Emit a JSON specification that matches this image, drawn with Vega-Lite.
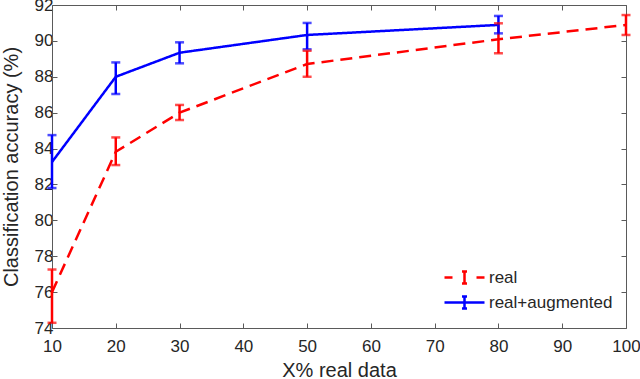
{
  "$schema": "https://vega.github.io/schema/vega-lite/v6.json",
  "autosize": "none",
  "width": 574,
  "height": 323,
  "padding": {"left": 52, "top": 5, "right": 14, "bottom": 51},
  "background": "white",
  "config": {
    "view": {"stroke": null},
    "font": "Liberation Sans",
    "axis": {
      "grid": false,
      "domainColor": "#5a5a5a",
      "tickColor": "#5a5a5a",
      "domainWidth": 1,
      "tickSize": -5,
      "labelFontSize": 17,
      "labelColor": "#262626",
      "titleFontSize": 20,
      "titleFontWeight": "normal",
      "titleColor": "#262626"
    }
  },
  "data": {
    "values": [
      {"series": "real", "x": 10, "y": 76.0, "lo": 74.29, "hi": 77.26},
      {"series": "real", "x": 20, "y": 83.82, "lo": 83.08, "hi": 84.62},
      {"series": "real", "x": 30, "y": 86.0, "lo": 85.59, "hi": 86.43},
      {"series": "real", "x": 50, "y": 88.71, "lo": 88.0, "hi": 89.45},
      {"series": "real", "x": 80, "y": 90.09, "lo": 89.31, "hi": 90.98},
      {"series": "real", "x": 100, "y": 90.89, "lo": 90.33, "hi": 91.44},
      {"series": "real+augmented", "x": 10, "y": 83.25, "lo": 81.8, "hi": 84.75},
      {"series": "real+augmented", "x": 20, "y": 88.0, "lo": 87.04, "hi": 88.8},
      {"series": "real+augmented", "x": 30, "y": 89.34, "lo": 88.75, "hi": 89.92},
      {"series": "real+augmented", "x": 50, "y": 90.33, "lo": 89.53, "hi": 91.0},
      {"series": "real+augmented", "x": 80, "y": 90.89, "lo": 90.42, "hi": 91.39}
    ]
  },
  "resolve": {"axis": {"x": "independent", "y": "independent"}},
  "layer": [
    {
      "mark": {"type": "line", "strokeWidth": 2.5},
      "encoding": {
        "x": {"field": "x", "type": "quantitative",
              "scale": {"domain": [10, 100], "nice": false},
              "axis": {"title": "X% real data", "values": [10,20,30,40,50,60,70,80,90,100], "labelPadding": 15, "titlePadding": 6, "labelFlush": false}},
        "y": {"field": "y", "type": "quantitative",
              "scale": {"domain": [74, 92], "nice": false, "zero": false},
              "axis": {"title": "Classification accuracy (%)", "values": [74,76,78,80,82,84,86,88,90,92], "labelPadding": 4, "titlePadding": 13, "labelFlush": false}},
        "color": {"field": "series", "type": "nominal",
                  "scale": {"domain": ["real", "real+augmented"], "range": ["#FF0000", "#0000FF"]},
                  "legend": {
                    "title": null,
                    "orient": "none",
                    "legendX": 401,
                    "legendY": 261,
                    "padding": 0,
                    "symbolSize": 400,
                    "symbolStrokeWidth": 2.5,
                    "labelFontSize": 17,
                    "labelColor": "#262626",
                    "labelOffset": 13,
                    "rowPadding": 2,
                    "encode": {
                      "symbols": {
                        "update": {
                          "shape": {"signal": "datum.value === 'real' ? 'M-2,0H-1.2M1.2,0H2M0,-0.6V0.6M-0.25,-0.6H0.25M-0.25,0.6H0.25' : 'M-2,0H2M0,-0.6V0.6M-0.25,-0.6H0.25M-0.25,0.6H0.25'"},
                          "fill": {"value": "transparent"},
                          "strokeDash": {"value": []}
                        }
                      }
                    }
                  }},
        "strokeDash": {"field": "series", "type": "nominal",
                       "scale": {"domain": ["real", "real+augmented"], "range": [[12, 7], [1, 0]]},
                       "legend": null}
      }
    },
    {
      "mark": {"type": "rule", "strokeWidth": 2.5},
      "encoding": {
        "x": {"field": "x", "type": "quantitative", "axis": null},
        "y": {"field": "lo", "type": "quantitative", "axis": null},
        "y2": {"field": "hi"},
        "color": {"field": "series", "type": "nominal"}
      }
    },
    {
      "mark": {"type": "tick", "orient": "horizontal", "size": 9, "thickness": 2.5},
      "encoding": {
        "x": {"field": "x", "type": "quantitative", "axis": null},
        "y": {"field": "lo", "type": "quantitative", "axis": null},
        "color": {"field": "series", "type": "nominal"}
      }
    },
    {
      "mark": {"type": "tick", "orient": "horizontal", "size": 9, "thickness": 2.5},
      "encoding": {
        "x": {"field": "x", "type": "quantitative", "axis": null},
        "y": {"field": "hi", "type": "quantitative", "axis": null},
        "color": {"field": "series", "type": "nominal"}
      }
    },
    {
      "mark": {"type": "point", "opacity": 0},
      "encoding": {
        "x": {"field": "x", "type": "quantitative",
              "axis": {"orient": "top", "labels": false, "title": null, "values": [10,20,30,40,50,60,70,80,90,100]}},
        "y": {"field": "y", "type": "quantitative",
              "axis": {"orient": "right", "labels": false, "title": null, "values": [74,76,78,80,82,84,86,88,90,92]}}
      }
    }
  ]
}
